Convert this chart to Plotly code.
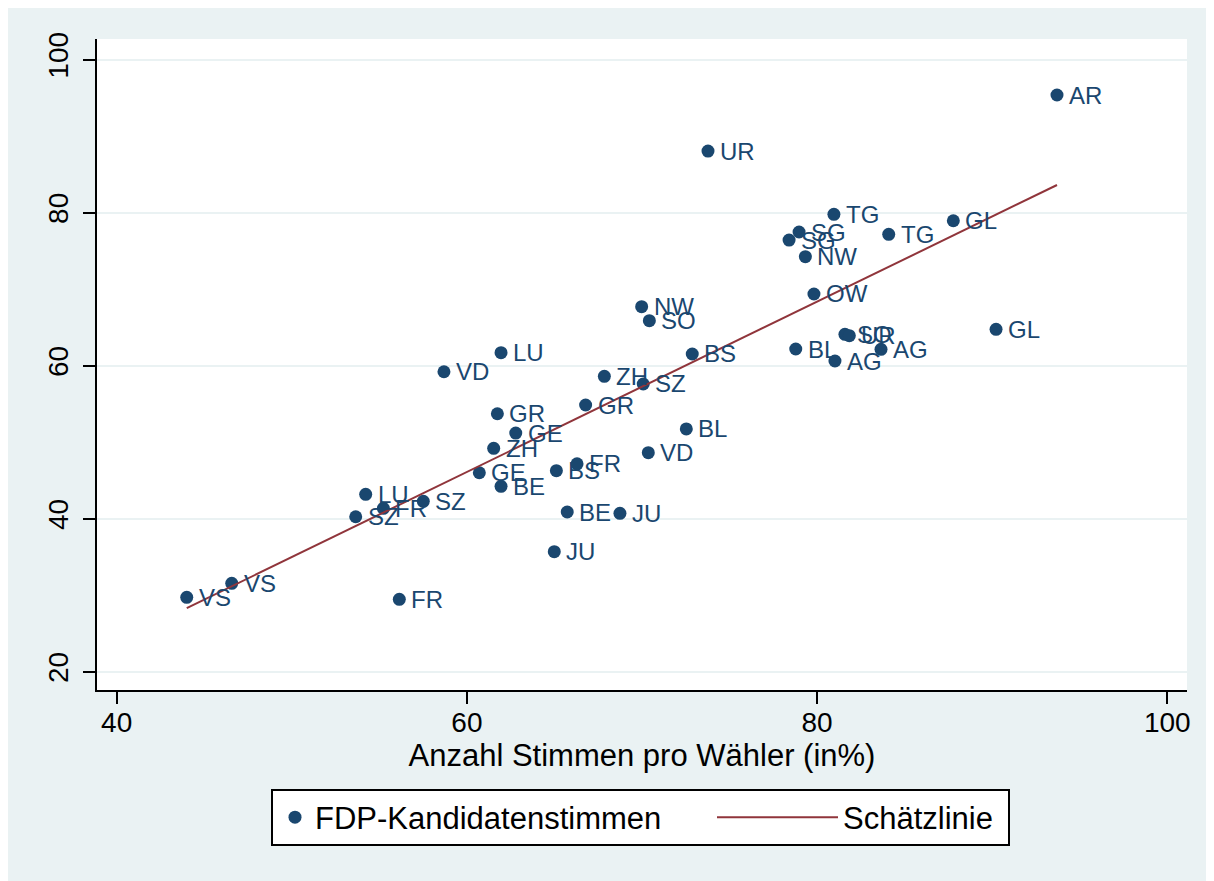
import plotly.graph_objects as go

# Data
labels = ["AR", "UR", "TG", "GL", "SG", "SG", "TG", "NW", "OW", "GL", "SO", "UR",
          "BL", "AG", "AG", "NW", "SO", "LU", "VD", "BS", "ZH", "SZ", "GR", "GR",
          "GE", "BL", "ZH", "VD", "GE", "BS", "FR", "BE", "BE", "JU", "JU", "LU",
          "FR", "SZ", "SZ", "VS", "VS", "FR"]
x_vals = [93.70, 73.77, 80.96, 87.78, 78.97, 78.40, 84.09, 79.33, 79.82, 90.22, 81.59, 81.84,
          78.78, 81.02, 83.65, 69.98, 70.42, 61.95, 58.69, 72.87, 67.85, 70.07, 66.78, 61.74,
          62.79, 72.53, 61.53, 70.36, 60.71, 65.11, 66.29, 61.95, 65.73, 68.74, 64.99, 54.22,
          55.23, 53.65, 57.51, 46.57, 44.00, 56.14]
y_vals = [95.36, 88.04, 79.77, 78.93, 77.46, 76.41, 77.16, 74.23, 69.36, 64.74, 64.09, 63.91,
          62.17, 60.60, 62.13, 67.70, 65.87, 61.69, 59.20, 61.52, 58.60, 57.60, 54.85, 53.71,
          51.19, 51.72, 49.19, 48.62, 46.00, 46.27, 47.17, 44.23, 40.87, 40.70, 35.68, 43.18,
          41.35, 40.25, 42.27, 31.55, 29.72, 29.46]
fit_x = [44.00, 93.70]
fit_y = [28.30, 83.60]
x_ticks = [40, 60, 80, 100]
y_ticks = [20, 40, 60, 80, 100]

NAVY = "#1A476F"
MAROON = "#90353B"
BG = "#EAF2F3"
FONT = "Arial, Liberation Sans, sans-serif"

# figure sits 8px in from the page corner (body margin)
W, H = 1214, 881
ML, MR, MT, MB = 89, 35, 31, 199
PW, PH = W - ML - MR, H - MT - MB


def px_x(page_x):
    return (page_x - 8 - ML) / PW


def px_y(page_y):
    return (H - MB - (page_y - 8)) / PH


fig = go.Figure()
fig.add_trace(go.Scatter(
    x=x_vals, y=y_vals, mode="markers",
    name="FDP-Kandidatenstimmen",
    marker=dict(color=NAVY, size=13),
    legend="legend",
))
fig.add_trace(go.Scatter(
    x=fit_x, y=fit_y, mode="lines", name="Schätzlinie",
    line=dict(color=MAROON, width=2),
    legend="legend2",
))

for lx, ly, lt in zip(x_vals, y_vals, labels):
    fig.add_annotation(x=lx, y=ly, text=lt, showarrow=False, xanchor="left",
                       yanchor="middle", xshift=10, yshift=0,
                       font=dict(family=FONT, size=24, color=NAVY))

# legend frame
fig.add_shape(type="rect", xref="paper", yref="paper",
              x0=px_x(272), x1=px_x(1009), y0=px_y(845), y1=px_y(790),
              fillcolor="white", line=dict(color="black", width=2), layer="above")

leg_common = dict(orientation="h", yanchor="middle", y=px_y(817.5), xanchor="left",
                  bgcolor="rgba(0,0,0,0)", borderwidth=0,
                  font=dict(family=FONT, size=31, color="black"))

fig.update_layout(
    width=W, height=H,
    margin=dict(l=ML, r=MR, t=MT, b=MB, pad=0),
    paper_bgcolor=BG, plot_bgcolor="white",
    font=dict(family=FONT, size=30, color="black"),
    showlegend=True,
    legend=dict(x=px_x(275), itemwidth=30, **leg_common),
    legend2=dict(x=px_x(712), itemwidth=121, **leg_common),
    xaxis=dict(
        range=[38.875, 101.125], tickvals=x_ticks, showgrid=False, zeroline=False,
        showline=True, linecolor="black", linewidth=2,
        ticks="outside", ticklen=12, tickwidth=2, tickcolor="black",
        tickfont=dict(size=28), ticklabelstandoff=-6,
        title=dict(text="Anzahl Stimmen pro Wähler (in%)", font=dict(size=31), standoff=4),
    ),
    yaxis=dict(
        range=[17.61, 102.68], tickvals=y_ticks, showgrid=True, gridcolor=BG, gridwidth=2,
        zeroline=False, showline=True, linecolor="black", linewidth=2,
        ticks="outside", ticklen=12, tickwidth=2, tickcolor="black",
        tickangle=-90, tickfont=dict(size=28), ticklabelstandoff=4,
    ),
)

fig.write_html("out.html")
